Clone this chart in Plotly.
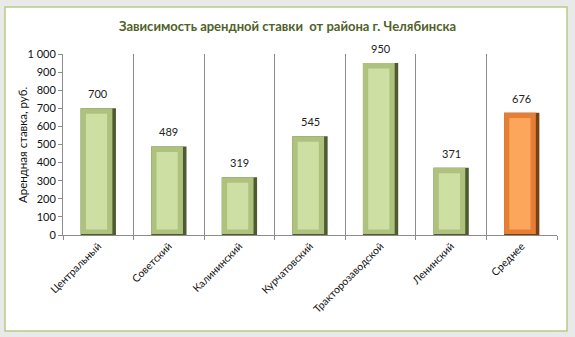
import plotly.graph_objects as go

categories = ["Центральный", "Советский", "Калининский", "Курчатовский",
              "Тракторозаводской", "Ленинский", "Среднее"]
values = [700, 489, 319, 545, 950, 371, 676]
y_ticks = [0, 100, 200, 300, 400, 500, 600, 700, 800, 900, 1000]

W, H = 575, 337
L, R, T, B = 63, 18, 54, 102

dark = ["#4e5a30"] * 6 + ["#7a4015"]
mid = ["#aec27e"] * 6 + ["#e47f35"]
light = ["#cddfa3"] * 6 + ["#fca65c"]

FONT = "Lato, Open Sans, sans-serif"

fig = go.Figure()
# dark base (right/bottom shadow)
fig.add_trace(go.Bar(x=categories, y=values, width=0.5, offset=-0.25,
                     marker=dict(color=dark, line=dict(width=0)),
                     hoverinfo="skip", showlegend=False))
# bevel face
fig.add_trace(go.Bar(x=categories, y=[v - 6 for v in values], base=[6] * len(values),
                     width=0.45, offset=-0.25,
                     marker=dict(color=mid, line=dict(width=0)),
                     hoverinfo="skip", showlegend=False))
# inner lighter face
fig.add_trace(go.Bar(x=categories, y=[v - 60 for v in values], base=[30] * len(values),
                     width=0.30, offset=-0.175,
                     marker=dict(color=light, line=dict(width=0)),
                     hoverinfo="skip", showlegend=False))

def px(x):
    return (x - L) / (W - L - R)

def py(y):
    return (H - B - y) / (H - T - B)

annotations = [dict(x=c, y=v, text=str(v), showarrow=False, yanchor="bottom", yshift=6,
                    font=dict(family=FONT, size=11, color="#222222"))
               for c, v in zip(categories, values)]
annotations.append(dict(xref="paper", yref="paper", x=px(22), y=py(145), textangle=-90,
                        text="Арендная ставка, руб.", showarrow=False,
                        xanchor="center", yanchor="middle",
                        font=dict(family=FONT, size=11.5, color="#111111")))

fig.update_layout(
    width=W, height=H,
    margin=dict(l=L, r=R, t=T, b=B),
    barmode="overlay",
    paper_bgcolor="#e9e9e9",
    plot_bgcolor="rgba(0,0,0,0)",
    separators=". ",
    font=dict(family=FONT, size=11, color="#222222"),
    title=dict(text="<b>Зависимость арендной ставки  от района г. Челябинска</b>",
               x=0.5, xref="container", xanchor="center", y=1 - 26 / H, yanchor="middle",
               font=dict(family=FONT, size=13, color="#4f6228")),
    annotations=annotations,
    xaxis=dict(type="category", range=[-0.5, 6.5], tickson="boundaries",
               showgrid=True, gridcolor="#8c8c8c", gridwidth=1,
               showline=True, linecolor="#8c8c8c", ticks="outside", ticklen=4,
               tickcolor="#8c8c8c", tickangle=-45,
               tickfont=dict(family=FONT, size=10.5, color="#111111")),
    yaxis=dict(range=[0, 1000], tickvals=y_ticks, tickformat=",d",
               showgrid=False, zeroline=False, showline=True, linecolor="#8c8c8c",
               ticks="outside", ticklen=4, tickcolor="#8c8c8c",
               tickfont=dict(family=FONT, size=11, color="#111111")),
    shapes=[
        dict(type="rect", xref="paper", yref="paper", layer="below",
             x0=px(5), x1=px(567), y0=py(331), y1=py(7),
             fillcolor="white", line=dict(color="#b5cc88", width=1.5)),
    ],
)

fig.write_html("out.html")
